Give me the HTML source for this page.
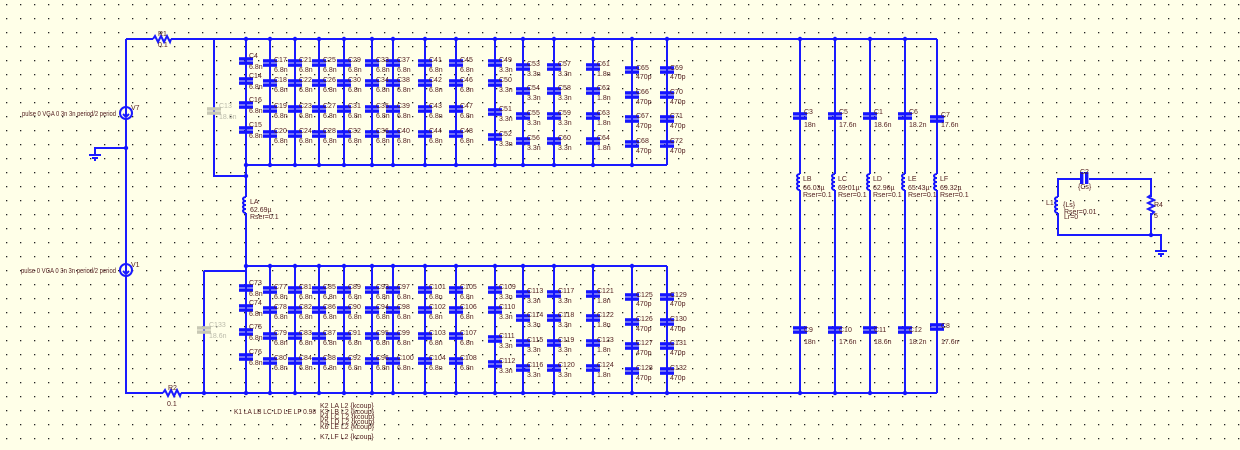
<!DOCTYPE html>
<html><head><meta charset="utf-8"><style>
html,body{margin:0;padding:0;background:#ffffe8;}
svg{display:block}
text{font-family:"Liberation Sans",sans-serif;font-size:7px;fill:#552222}
.g text{fill:#bbbbaa}
</style></head><body>
<svg width="1240" height="450" viewBox="0 0 1240 450" xmlns="http://www.w3.org/2000/svg">
<defs>
<pattern id="grid" x="6" y="4" width="14" height="14" patternUnits="userSpaceOnUse"><rect x="0" y="0" width="1.3" height="1.3" fill="#222"/></pattern>
<g id="cap"><rect x="-7" y="-3.8" width="14" height="3.4" fill="#1414ff"/><rect x="-7" y="0.4" width="14" height="3.4" fill="#1414ff"/></g>
<g id="capg"><rect x="-7" y="-3.8" width="14" height="3.4" fill="#c8c8b4"/><rect x="-7" y="0.4" width="14" height="3.4" fill="#c8c8b4"/></g>
<g id="ind"><path d="M0,-8 a3,2 0 1 0 0,4 a3,2 0 1 0 0,4 a3,2 0 1 0 0,4 a3,2 0 1 0 0,4" fill="none" stroke="#1414ff" stroke-width="2"/></g>
</defs>
<rect width="1240" height="450" fill="url(#grid)"/>
<g stroke="#1a1aff" stroke-width="2" fill="none">
<path d="M126,39H153M171,39H937"/>
<path d="M126,39V393H163M181,393H937"/>
<path d="M126,148H95V155"/>
<path d="M214,39V176H246"/>
<path d="M204,271H246M204,271V393"/>
<path d="M246,39V266M246,165H667M246,266H667"/>
<path d="M270,39V165M295,39V165M319,39V165M344,39V165M372,39V165M393,39V165M425,39V165M456,39V165M495,39V165M523,39V165M554,39V165M593,39V165M632,39V165M667,39V165"/>
<path d="M246,266V393M270,266V393M295,266V393M319,266V393M344,266V393M372,266V393M393,266V393M425,266V393M456,266V393M495,266V393M523,266V393M554,266V393M593,266V393M632,266V393M667,266V393"/>
<path d="M800,39V393M835,39V393M870,39V393M905,39V393M937,39V393"/>
<path d="M1085,179H1058V235H1151V179H1085M1151,235H1161V251"/>
<path d="M153,39l2,-3l3,6l3,-6l3,6l3,-6l3,6l1,-3"/>
<path d="M163,393l2,-3l3,6l3,-6l3,6l3,-6l3,6l1,-3"/>
</g>
<g stroke="#ffffe8" stroke-width="3"><path d="M126,107V119M126,264V276M246,197V213M800,174V190M835,174V190M870,174V190M905,174V190M937,174V190M1058,197V213M1151,197V213M1081,179H1089"/></g>
<g stroke="#1a1aff" stroke-width="2" fill="none">
<path d="M1151,195l-3,2l6,3l-6,3l6,3l-6,3l6,3l-3,3"/>
<circle cx="126" cy="113" r="6"/><circle cx="126" cy="270" r="6"/>
<path d="M126,108V117M123,114l3,3l3,-3M126,265V274M123,271l3,3l3,-3"/>
<path d="M89,155H101M92,158H98M94,160H96M1155,251H1167M1158,254H1164M1160,256H1162"/>
</g>
<use href="#ind" x="246" y="205"/><use href="#ind" x="800" y="182"/><use href="#ind" x="835" y="182"/><use href="#ind" x="870" y="182"/><use href="#ind" x="905" y="182"/><use href="#ind" x="937" y="182"/><use href="#ind" x="1058" y="205"/>
<g fill="#1414ff"><rect x="1080" y="172" width="3.4" height="12"/><rect x="1085" y="172" width="3.4" height="12"/></g>
<use href="#capg" x="214" y="111"/><use href="#capg" x="204" y="330"/>
<g class="g"><text x="219" y="108">C13</text><text x="219" y="119">18.6n</text><text x="209" y="327">C133</text><text x="209" y="338">18.6n</text></g>
<g fill="#1414ff">
<circle cx="246" cy="39" r="2.2"/><circle cx="270" cy="39" r="2.2"/><circle cx="295" cy="39" r="2.2"/><circle cx="319" cy="39" r="2.2"/><circle cx="344" cy="39" r="2.2"/><circle cx="372" cy="39" r="2.2"/><circle cx="393" cy="39" r="2.2"/><circle cx="425" cy="39" r="2.2"/><circle cx="456" cy="39" r="2.2"/><circle cx="495" cy="39" r="2.2"/><circle cx="523" cy="39" r="2.2"/><circle cx="554" cy="39" r="2.2"/><circle cx="593" cy="39" r="2.2"/><circle cx="632" cy="39" r="2.2"/><circle cx="667" cy="39" r="2.2"/><circle cx="800" cy="39" r="2.2"/><circle cx="835" cy="39" r="2.2"/><circle cx="870" cy="39" r="2.2"/><circle cx="905" cy="39" r="2.2"/>
<circle cx="246" cy="165" r="2.2"/><circle cx="270" cy="165" r="2.2"/><circle cx="295" cy="165" r="2.2"/><circle cx="319" cy="165" r="2.2"/><circle cx="344" cy="165" r="2.2"/><circle cx="372" cy="165" r="2.2"/><circle cx="393" cy="165" r="2.2"/><circle cx="425" cy="165" r="2.2"/><circle cx="456" cy="165" r="2.2"/><circle cx="495" cy="165" r="2.2"/><circle cx="523" cy="165" r="2.2"/><circle cx="554" cy="165" r="2.2"/><circle cx="593" cy="165" r="2.2"/><circle cx="632" cy="165" r="2.2"/><circle cx="246" cy="176" r="2.2"/>
<circle cx="246" cy="266" r="2.2"/><circle cx="270" cy="266" r="2.2"/><circle cx="295" cy="266" r="2.2"/><circle cx="319" cy="266" r="2.2"/><circle cx="344" cy="266" r="2.2"/><circle cx="372" cy="266" r="2.2"/><circle cx="393" cy="266" r="2.2"/><circle cx="425" cy="266" r="2.2"/><circle cx="456" cy="266" r="2.2"/><circle cx="495" cy="266" r="2.2"/><circle cx="523" cy="266" r="2.2"/><circle cx="554" cy="266" r="2.2"/><circle cx="593" cy="266" r="2.2"/><circle cx="632" cy="266" r="2.2"/>
<circle cx="204" cy="393" r="2.2"/><circle cx="246" cy="393" r="2.2"/><circle cx="270" cy="393" r="2.2"/><circle cx="295" cy="393" r="2.2"/><circle cx="319" cy="393" r="2.2"/><circle cx="344" cy="393" r="2.2"/><circle cx="372" cy="393" r="2.2"/><circle cx="393" cy="393" r="2.2"/><circle cx="425" cy="393" r="2.2"/><circle cx="456" cy="393" r="2.2"/><circle cx="495" cy="393" r="2.2"/><circle cx="523" cy="393" r="2.2"/><circle cx="554" cy="393" r="2.2"/><circle cx="593" cy="393" r="2.2"/><circle cx="632" cy="393" r="2.2"/><circle cx="667" cy="393" r="2.2"/><circle cx="800" cy="393" r="2.2"/><circle cx="835" cy="393" r="2.2"/><circle cx="870" cy="393" r="2.2"/><circle cx="905" cy="393" r="2.2"/>
<circle cx="126" cy="148" r="2.2"/><circle cx="1151" cy="235" r="2.2"/>
</g>
<use href="#cap" x="246" y="61"/><use href="#cap" x="246" y="81"/><use href="#cap" x="246" y="105"/><use href="#cap" x="246" y="130"/>
<use href="#cap" x="270" y="63"/><use href="#cap" x="270" y="83"/><use href="#cap" x="270" y="109"/><use href="#cap" x="270" y="134"/>
<use href="#cap" x="295" y="63"/><use href="#cap" x="295" y="83"/><use href="#cap" x="295" y="109"/><use href="#cap" x="295" y="134"/>
<use href="#cap" x="319" y="63"/><use href="#cap" x="319" y="83"/><use href="#cap" x="319" y="109"/><use href="#cap" x="319" y="134"/>
<use href="#cap" x="344" y="63"/><use href="#cap" x="344" y="83"/><use href="#cap" x="344" y="109"/><use href="#cap" x="344" y="134"/>
<use href="#cap" x="372" y="63"/><use href="#cap" x="372" y="83"/><use href="#cap" x="372" y="109"/><use href="#cap" x="372" y="134"/>
<use href="#cap" x="393" y="63"/><use href="#cap" x="393" y="83"/><use href="#cap" x="393" y="109"/><use href="#cap" x="393" y="134"/>
<use href="#cap" x="425" y="63"/><use href="#cap" x="425" y="83"/><use href="#cap" x="425" y="109"/><use href="#cap" x="425" y="134"/>
<use href="#cap" x="456" y="63"/><use href="#cap" x="456" y="83"/><use href="#cap" x="456" y="109"/><use href="#cap" x="456" y="134"/>
<use href="#cap" x="495" y="63"/><use href="#cap" x="495" y="83"/><use href="#cap" x="495" y="112"/><use href="#cap" x="495" y="137"/>
<use href="#cap" x="523" y="67"/><use href="#cap" x="523" y="91"/><use href="#cap" x="523" y="116"/><use href="#cap" x="523" y="141"/>
<use href="#cap" x="554" y="67"/><use href="#cap" x="554" y="91"/><use href="#cap" x="554" y="116"/><use href="#cap" x="554" y="141"/>
<use href="#cap" x="593" y="67"/><use href="#cap" x="593" y="91"/><use href="#cap" x="593" y="116"/><use href="#cap" x="593" y="141"/>
<use href="#cap" x="632" y="70"/><use href="#cap" x="632" y="95"/><use href="#cap" x="632" y="119"/><use href="#cap" x="632" y="144"/>
<use href="#cap" x="667" y="70"/><use href="#cap" x="667" y="95"/><use href="#cap" x="667" y="119"/><use href="#cap" x="667" y="144"/>
<use href="#cap" x="246" y="288"/><use href="#cap" x="246" y="308"/><use href="#cap" x="246" y="332"/><use href="#cap" x="246" y="357"/>
<use href="#cap" x="270" y="290"/><use href="#cap" x="270" y="310"/><use href="#cap" x="270" y="336"/><use href="#cap" x="270" y="361"/>
<use href="#cap" x="295" y="290"/><use href="#cap" x="295" y="310"/><use href="#cap" x="295" y="336"/><use href="#cap" x="295" y="361"/>
<use href="#cap" x="319" y="290"/><use href="#cap" x="319" y="310"/><use href="#cap" x="319" y="336"/><use href="#cap" x="319" y="361"/>
<use href="#cap" x="344" y="290"/><use href="#cap" x="344" y="310"/><use href="#cap" x="344" y="336"/><use href="#cap" x="344" y="361"/>
<use href="#cap" x="372" y="290"/><use href="#cap" x="372" y="310"/><use href="#cap" x="372" y="336"/><use href="#cap" x="372" y="361"/>
<use href="#cap" x="393" y="290"/><use href="#cap" x="393" y="310"/><use href="#cap" x="393" y="336"/><use href="#cap" x="393" y="361"/>
<use href="#cap" x="425" y="290"/><use href="#cap" x="425" y="310"/><use href="#cap" x="425" y="336"/><use href="#cap" x="425" y="361"/>
<use href="#cap" x="456" y="290"/><use href="#cap" x="456" y="310"/><use href="#cap" x="456" y="336"/><use href="#cap" x="456" y="361"/>
<use href="#cap" x="495" y="290"/><use href="#cap" x="495" y="310"/><use href="#cap" x="495" y="339"/><use href="#cap" x="495" y="364"/>
<use href="#cap" x="523" y="294"/><use href="#cap" x="523" y="318"/><use href="#cap" x="523" y="343"/><use href="#cap" x="523" y="368"/>
<use href="#cap" x="554" y="294"/><use href="#cap" x="554" y="318"/><use href="#cap" x="554" y="343"/><use href="#cap" x="554" y="368"/>
<use href="#cap" x="593" y="294"/><use href="#cap" x="593" y="318"/><use href="#cap" x="593" y="343"/><use href="#cap" x="593" y="368"/>
<use href="#cap" x="632" y="297"/><use href="#cap" x="632" y="322"/><use href="#cap" x="632" y="346"/><use href="#cap" x="632" y="371"/>
<use href="#cap" x="667" y="297"/><use href="#cap" x="667" y="322"/><use href="#cap" x="667" y="346"/><use href="#cap" x="667" y="371"/>
<use href="#cap" x="800" y="116"/><use href="#cap" x="835" y="116"/><use href="#cap" x="870" y="116"/><use href="#cap" x="905" y="116"/><use href="#cap" x="937" y="119"/>
<use href="#cap" x="800" y="330"/><use href="#cap" x="835" y="330"/><use href="#cap" x="870" y="330"/><use href="#cap" x="905" y="330"/><use href="#cap" x="937" y="327"/>
<g>
<text x="249" y="58">C4</text><text x="249" y="69">6.8n</text><text x="249" y="78">C14</text><text x="249" y="89">6.8n</text><text x="249" y="102">C16</text><text x="249" y="113">6.8n</text><text x="249" y="127">C15</text><text x="249" y="138">6.8n</text>
<text x="274" y="62">C17</text><text x="274" y="72">6.8n</text><text x="274" y="82">C18</text><text x="274" y="92">6.8n</text><text x="274" y="108">C19</text><text x="274" y="118">6.8n</text><text x="274" y="133">C20</text><text x="274" y="143">6.8n</text>
<text x="299" y="62">C21</text><text x="299" y="72">6.8n</text><text x="299" y="82">C22</text><text x="299" y="92">6.8n</text><text x="299" y="108">C23</text><text x="299" y="118">6.8n</text><text x="299" y="133">C24</text><text x="299" y="143">6.8n</text>
<text x="323" y="62">C25</text><text x="323" y="72">6.8n</text><text x="323" y="82">C26</text><text x="323" y="92">6.8n</text><text x="323" y="108">C27</text><text x="323" y="118">6.8n</text><text x="323" y="133">C28</text><text x="323" y="143">6.8n</text>
<text x="348" y="62">C29</text><text x="348" y="72">6.8n</text><text x="348" y="82">C30</text><text x="348" y="92">6.8n</text><text x="348" y="108">C31</text><text x="348" y="118">6.8n</text><text x="348" y="133">C32</text><text x="348" y="143">6.8n</text>
<text x="376" y="62">C33</text><text x="376" y="72">6.8n</text><text x="376" y="82">C34</text><text x="376" y="92">6.8n</text><text x="376" y="108">C35</text><text x="376" y="118">6.8n</text><text x="376" y="133">C36</text><text x="376" y="143">6.8n</text>
<text x="397" y="62">C37</text><text x="397" y="72">6.8n</text><text x="397" y="82">C38</text><text x="397" y="92">6.8n</text><text x="397" y="108">C39</text><text x="397" y="118">6.8n</text><text x="397" y="133">C40</text><text x="397" y="143">6.8n</text>
<text x="429" y="62">C41</text><text x="429" y="72">6.8n</text><text x="429" y="82">C42</text><text x="429" y="92">6.8n</text><text x="429" y="108">C43</text><text x="429" y="118">6.8n</text><text x="429" y="133">C44</text><text x="429" y="143">6.8n</text>
<text x="460" y="62">C45</text><text x="460" y="72">6.8n</text><text x="460" y="82">C46</text><text x="460" y="92">6.8n</text><text x="460" y="108">C47</text><text x="460" y="118">6.8n</text><text x="460" y="133">C48</text><text x="460" y="143">6.8n</text>
<text x="499" y="62">C49</text><text x="499" y="72">3.3n</text><text x="499" y="82">C50</text><text x="499" y="92">3.3n</text><text x="499" y="111">C51</text><text x="499" y="121">3.3n</text><text x="499" y="136">C52</text><text x="499" y="146">3.3n</text>
<text x="527" y="66">C53</text><text x="527" y="76">3.3n</text><text x="527" y="90">C54</text><text x="527" y="100">3.3n</text><text x="527" y="115">C55</text><text x="527" y="125">3.3n</text><text x="527" y="140">C56</text><text x="527" y="150">3.3n</text>
<text x="558" y="66">C57</text><text x="558" y="76">3.3n</text><text x="558" y="90">C58</text><text x="558" y="100">3.3n</text><text x="558" y="115">C59</text><text x="558" y="125">3.3n</text><text x="558" y="140">C60</text><text x="558" y="150">3.3n</text>
<text x="597" y="66">C61</text><text x="597" y="76">1.8n</text><text x="597" y="90">C62</text><text x="597" y="100">1.8n</text><text x="597" y="115">C63</text><text x="597" y="125">1.8n</text><text x="597" y="140">C64</text><text x="597" y="150">1.8n</text>
<text x="636" y="70">C65</text><text x="636" y="79">470p</text><text x="636" y="94">C66</text><text x="636" y="104">470p</text><text x="636" y="118">C67</text><text x="636" y="128">470p</text><text x="636" y="143">C68</text><text x="636" y="153">470p</text>
<text x="670" y="70">C69</text><text x="670" y="79">470p</text><text x="670" y="94">C70</text><text x="670" y="104">470p</text><text x="670" y="118">C71</text><text x="670" y="128">470p</text><text x="670" y="143">C72</text><text x="670" y="153">470p</text>
</g>
<g transform="translate(0,227)">
<text x="249" y="58">C73</text><text x="249" y="69">6.8n</text><text x="249" y="78">C74</text><text x="249" y="89">6.8n</text><text x="249" y="102">C75</text><text x="249" y="113">6.8n</text><text x="249" y="127">C76</text><text x="249" y="138">6.8n</text>
<text x="274" y="62">C77</text><text x="274" y="72">6.8n</text><text x="274" y="82">C78</text><text x="274" y="92">6.8n</text><text x="274" y="108">C79</text><text x="274" y="118">6.8n</text><text x="274" y="133">C80</text><text x="274" y="143">6.8n</text>
<text x="299" y="62">C81</text><text x="299" y="72">6.8n</text><text x="299" y="82">C82</text><text x="299" y="92">6.8n</text><text x="299" y="108">C83</text><text x="299" y="118">6.8n</text><text x="299" y="133">C84</text><text x="299" y="143">6.8n</text>
<text x="323" y="62">C85</text><text x="323" y="72">6.8n</text><text x="323" y="82">C86</text><text x="323" y="92">6.8n</text><text x="323" y="108">C87</text><text x="323" y="118">6.8n</text><text x="323" y="133">C88</text><text x="323" y="143">6.8n</text>
<text x="348" y="62">C89</text><text x="348" y="72">6.8n</text><text x="348" y="82">C90</text><text x="348" y="92">6.8n</text><text x="348" y="108">C91</text><text x="348" y="118">6.8n</text><text x="348" y="133">C92</text><text x="348" y="143">6.8n</text>
<text x="376" y="62">C93</text><text x="376" y="72">6.8n</text><text x="376" y="82">C94</text><text x="376" y="92">6.8n</text><text x="376" y="108">C95</text><text x="376" y="118">6.8n</text><text x="376" y="133">C96</text><text x="376" y="143">6.8n</text>
<text x="397" y="62">C97</text><text x="397" y="72">6.8n</text><text x="397" y="82">C98</text><text x="397" y="92">6.8n</text><text x="397" y="108">C99</text><text x="397" y="118">6.8n</text><text x="397" y="133">C100</text><text x="397" y="143">6.8n</text>
<text x="429" y="62">C101</text><text x="429" y="72">6.8n</text><text x="429" y="82">C102</text><text x="429" y="92">6.8n</text><text x="429" y="108">C103</text><text x="429" y="118">6.8n</text><text x="429" y="133">C104</text><text x="429" y="143">6.8n</text>
<text x="460" y="62">C105</text><text x="460" y="72">6.8n</text><text x="460" y="82">C106</text><text x="460" y="92">6.8n</text><text x="460" y="108">C107</text><text x="460" y="118">6.8n</text><text x="460" y="133">C108</text><text x="460" y="143">6.8n</text>
<text x="499" y="62">C109</text><text x="499" y="72">3.3n</text><text x="499" y="82">C110</text><text x="499" y="92">3.3n</text><text x="499" y="111">C111</text><text x="499" y="121">3.3n</text><text x="499" y="136">C112</text><text x="499" y="146">3.3n</text>
<text x="527" y="66">C113</text><text x="527" y="76">3.3n</text><text x="527" y="90">C114</text><text x="527" y="100">3.3n</text><text x="527" y="115">C115</text><text x="527" y="125">3.3n</text><text x="527" y="140">C116</text><text x="527" y="150">3.3n</text>
<text x="558" y="66">C117</text><text x="558" y="76">3.3n</text><text x="558" y="90">C118</text><text x="558" y="100">3.3n</text><text x="558" y="115">C119</text><text x="558" y="125">3.3n</text><text x="558" y="140">C120</text><text x="558" y="150">3.3n</text>
<text x="597" y="66">C121</text><text x="597" y="76">1.8n</text><text x="597" y="90">C122</text><text x="597" y="100">1.8n</text><text x="597" y="115">C123</text><text x="597" y="125">1.8n</text><text x="597" y="140">C124</text><text x="597" y="150">1.8n</text>
<text x="636" y="70">C125</text><text x="636" y="79">470p</text><text x="636" y="94">C126</text><text x="636" y="104">470p</text><text x="636" y="118">C127</text><text x="636" y="128">470p</text><text x="636" y="143">C128</text><text x="636" y="153">470p</text>
<text x="670" y="70">C129</text><text x="670" y="79">470p</text><text x="670" y="94">C130</text><text x="670" y="104">470p</text><text x="670" y="118">C131</text><text x="670" y="128">470p</text><text x="670" y="143">C132</text><text x="670" y="153">470p</text>
</g>
<g>
<text x="804" y="114">C3</text><text x="804" y="127">18n</text>
<text x="839" y="114">C5</text><text x="839" y="127">17.6n</text>
<text x="874" y="114">C1</text><text x="874" y="127">18.6n</text>
<text x="909" y="114">C6</text><text x="909" y="127">18.2n</text>
<text x="941" y="117">C7</text><text x="941" y="127">17.6n</text>
<text x="803" y="181">LB</text><text x="803" y="190">66.03µ</text><text x="803" y="197">Rser=0.1</text>
<text x="838" y="181">LC</text><text x="838" y="190">69.01µ</text><text x="838" y="197">Rser=0.1</text>
<text x="873" y="181">LD</text><text x="873" y="190">62.96µ</text><text x="873" y="197">Rser=0.1</text>
<text x="908" y="181">LE</text><text x="908" y="190">65.43µ</text><text x="908" y="197">Rser=0.1</text>
<text x="940" y="181">LF</text><text x="940" y="190">69.32µ</text><text x="940" y="197">Rser=0.1</text>
<text x="804" y="332">C9</text><text x="804" y="344">18n</text>
<text x="839" y="332">C10</text><text x="839" y="344">17.6n</text>
<text x="874" y="332">C11</text><text x="874" y="344">18.6n</text>
<text x="909" y="332">C12</text><text x="909" y="344">18.2n</text>
<text x="941" y="328">C8</text><text x="941" y="344">17.6n</text>
<text x="250" y="204">LA</text><text x="250" y="212">62.69µ</text><text x="250" y="219">Rser=0.1</text>
<text x="158" y="36">R1</text><text x="158" y="47">0.1</text>
<text x="168" y="390">R2</text><text x="167" y="406">0.1</text>
<text x="131" y="110">V7</text><text x="131" y="267">V1</text>
<text x="22" y="116" textLength="94" lengthAdjust="spacingAndGlyphs">pulse 0 VGA  0 3n 3n period/2 period</text>
<text x="21" y="273" textLength="95" lengthAdjust="spacingAndGlyphs">pulse 0 VGA  0 3n 3n period/2 period</text>
<text x="1080" y="174">C2</text><text x="1078" y="189">{Cs}</text>
<text x="1046" y="205">L1</text><text x="1063" y="207">{Ls}</text><text x="1064" y="214">Rser=0.01</text><text x="1064" y="219">Lr=0</text>
<text x="1154" y="207">R4</text><text x="1154" y="218">5</text>
<text x="234" y="414" textLength="82" lengthAdjust="spacingAndGlyphs">K1 LA LB LC LD LE LF 0.98</text>
<text x="320" y="408">K2 LA L2 {kcoup}</text>
<text x="320" y="414">K3 LB L2 {kcoup}</text>
<text x="320" y="419">K4 LC L2 {kcoup}</text>
<text x="320" y="424">K5 LD L2 {kcoup}</text>
<text x="320" y="429">K6 LE L2 {kcoup}</text>
<text x="320" y="439">K7 LF L2 {kcoup}</text>
</g>
</svg>
</body></html>
